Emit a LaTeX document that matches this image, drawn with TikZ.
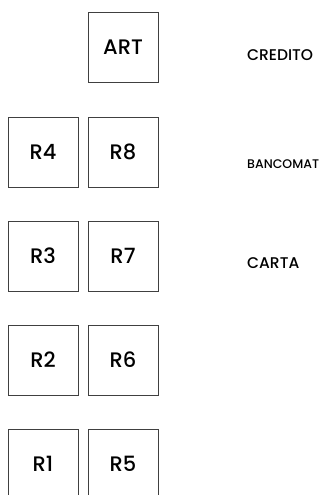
\documentclass[tikz,border=0pt]{standalone}
\usepackage{fontspec}
\setmainfont{Poppins}[UprightFont=* Medium]
\usepackage{xcolor}
\definecolor{bordo}{rgb}{0.25,0.25,0.25}
\usetikzlibrary{positioning}
\tikzset{
  regbox/.style={rectangle, draw=bordo, thin, minimum width=70pt, minimum height=70pt, inner sep=0pt, font=\fontsize{21}{24}\selectfont},
  pay/.style={anchor=west, inner sep=0pt, font=\fontsize{15.5}{18}\selectfont},
  paysmall/.style={anchor=west, inner sep=0pt, font=\fontsize{12.5}{15}\selectfont}
}
\begin{document}
\begin{tikzpicture}[x=1pt,y=1pt]
    \clip (0,0) rectangle (323,-495);

    \node[regbox] (art) at (123,-47) {ART};
    \node[regbox,below of=art,node distance=105pt] (r8) {R8};
    \node[regbox,below of=r8,node distance=104pt] (r7) {R7};
    \node[regbox,below of=r7,node distance=104pt] (r6) {R6};
    \node[regbox,below of=r6,node distance=104pt] (r5) {R5};

    \node[regbox,left of=r8,node distance=80pt] (r4) {R4};
    \node[regbox,left of=r7,node distance=80pt] (r3) {R3};
    \node[regbox,left of=r6,node distance=80pt] (r2) {R2};
    \node[regbox,left of=r5,node distance=80pt] (r1) {R1};

    % pagamenti
    \node[pay] (credito) at (247,-55.5) {CREDITO};
    \node[paysmall] (bancomat) at (247,-164) {BANCOMAT};
    \node[pay] (carta) at (247,-263.3) {CARTA};
\end{tikzpicture}
\end{document}
